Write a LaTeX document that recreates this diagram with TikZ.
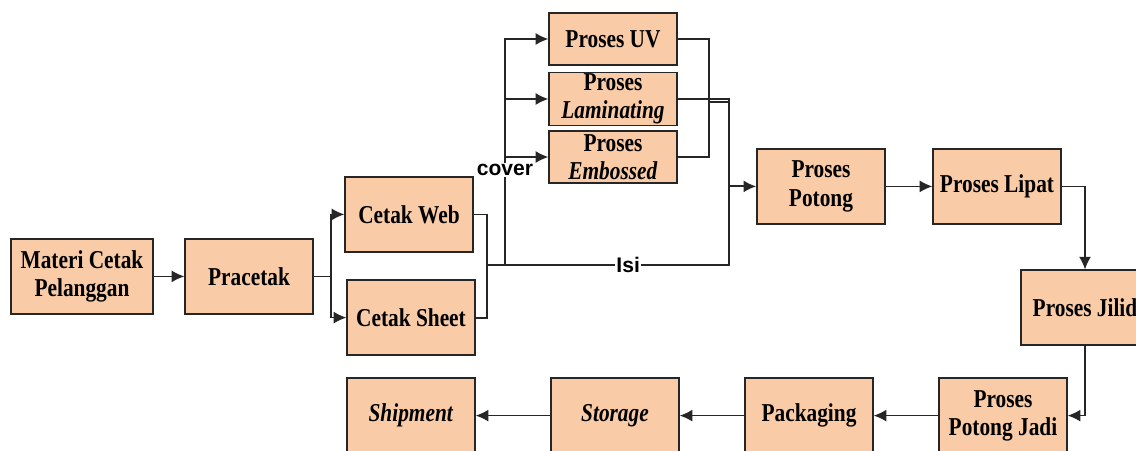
\documentclass[tikz,border=0pt]{standalone}
\usepackage{fontspec}
\setmainfont{Liberation Serif}[FakeStretch=0.83]
\newfontfamily\labelfont{Liberation Sans}
\usetikzlibrary{arrows.meta}
\definecolor{boxfill}{RGB}{249,204,167}

\begin{document}
\begin{tikzpicture}[
    proc/.style={draw=black!85, fill=boxfill, line width=1pt, minimum width=3.2cm,
                 minimum height=1.875cm, inner sep=1pt, align=center,
                 font=\fontsize{18.3}{20}\selectfont\bfseries},
    slim/.style={proc, minimum height=1.3cm},
    edge/.style={-{Latex[length=9pt,width=8.5pt]}, draw=black!85, line width=0.9pt},
    wire/.style={draw=black!85, line width=0.9pt},
    lbl/.style={font=\labelfont\fontsize{15}{17}\selectfont\bfseries,
                fill=white, inner sep=1pt}
]
\useasboundingbox (0,0) rectangle (28.4,-11.25);

% main boxes
\node[proc, minimum width=3.55cm] (materi) at (2.05,-6.91)  {Materi Cetak\\Pelanggan};
\node[proc]  (pracetak) at (6.225,-6.91)   {Pracetak};
\node[proc]  (web)      at (10.225,-5.36)  {Cetak Web};
\node[proc]  (sheet)    at (10.275,-7.94)  {Cetak Sheet};
\node[slim]  (uv)       at (15.325,-0.975) {Proses UV};
\node[slim]  (lam)      at (15.325,-2.475) {Proses\\\textit{Laminating}};
\node[slim]  (emb)      at (15.325,-3.925) {Proses\\\textit{Embossed}};
\node[proc]  (potong)   at (20.525,-4.66)  {Proses\\Potong};
\node[proc]  (lipat)    at (24.925,-4.66)  {Proses Lipat};
\node[proc]  (jilid)    at (27.125,-7.69)  {Proses Jilid};
\node[proc]  (pjadi)    at (25.075,-10.39) {Proses\\Potong Jadi};
\node[proc]  (pack)     at (20.225,-10.39) {Packaging};
\node[proc]  (storage)  at (15.375,-10.39) {\textit{Storage}};
\node[proc]  (ship)     at (10.275,-10.39) {\textit{Shipment}};

% junction points
\coordinate (split) at (8.275,-6.91);
\coordinate (join)  at (12.175,-6.625);
\coordinate (cv)    at (12.625,-6.625);
\coordinate (ue)    at (17.725,-2.55);
\coordinate (mrg)   at (18.225,-4.66);
\coordinate (isiend) at (18.225,-6.625);

\draw[edge] (materi) -- (pracetak);
\draw[wire] (pracetak) -- (split);
\draw[edge] (split) |- (web);
\draw[edge] (split) |- (sheet);

\draw[wire] (web) -| (join);
\draw[wire, line width=1.5pt] (sheet) -| (join) -- (cv);

% cover finishing
\draw[edge] (cv) |- (uv);
\draw[edge] (cv) |- (lam);
\draw[edge] (cv) |- (emb);
\node[lbl] (cover) at (12.625,-4.25) {cover};

\draw[wire] (uv) -| (ue);
\draw[wire] (emb) -| (ue);
\draw[wire, line width=1.4pt] (ue) -- (ue -| mrg);
\draw[wire] (lam) -| (mrg);

% isi goes straight on
\draw[wire] (cv) -- node[lbl, pos=0.55] (isi) {Isi} (isiend) -- (mrg);
\draw[edge, line width=1.4pt] (mrg) -- (potong);

\draw[edge] (potong) -- (lipat);
\draw[edge] (lipat) -| (jilid);
\draw[edge] (jilid) |- (pjadi);
\draw[edge] (pjadi) -- (pack);
\draw[edge] (pack) -- (storage);
\draw[edge] (storage) -- (ship);

\end{tikzpicture}
\end{document}
